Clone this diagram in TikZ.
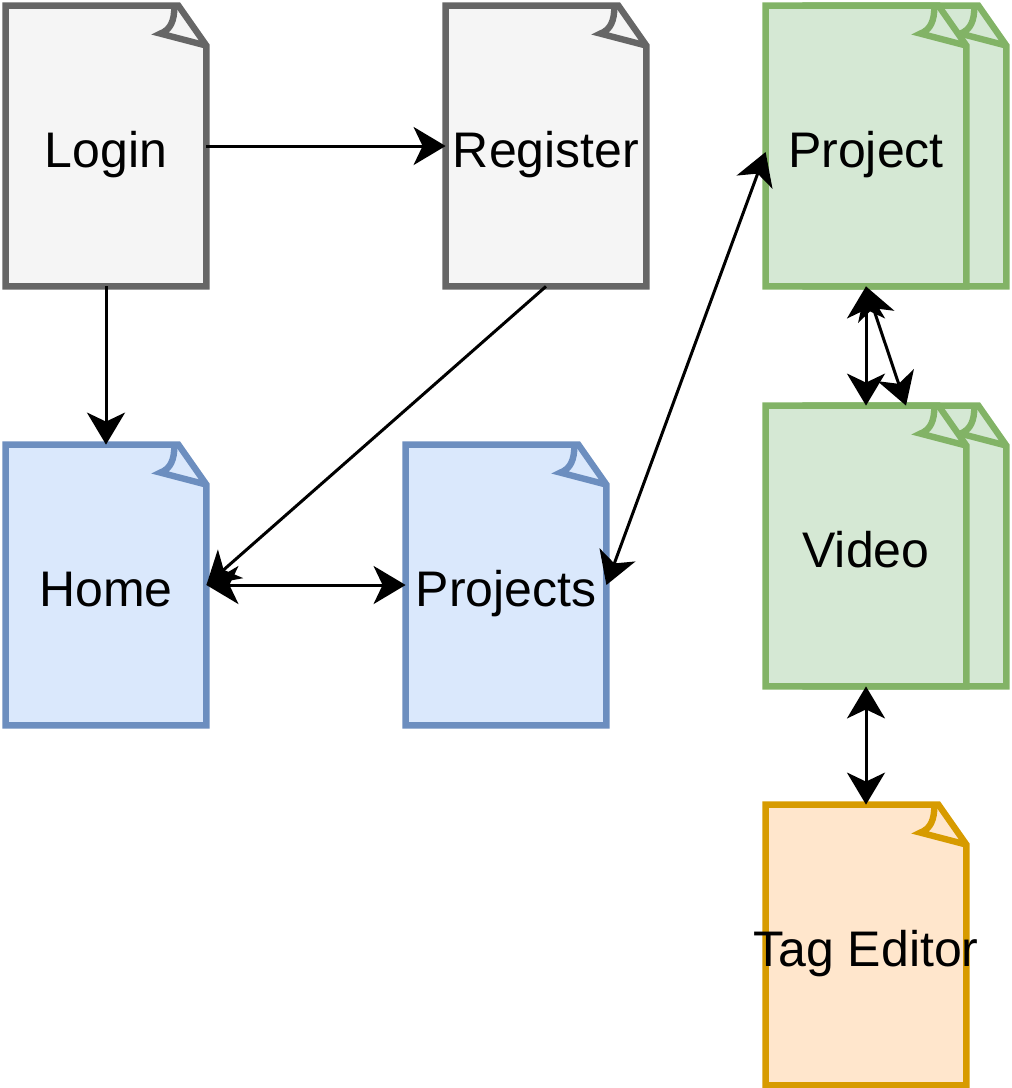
\documentclass[tikz,border=0pt]{standalone}
\usepackage{fontspec}
\setmainfont{Liberation Sans}
\usetikzlibrary{arrows.meta,backgrounds}

\definecolor{grayfill}{HTML}{F5F5F5}
\definecolor{graydraw}{HTML}{666666}
\definecolor{bluefill}{HTML}{DAE8FC}
\definecolor{bluedraw}{HTML}{6C8EBF}
\definecolor{greenfill}{HTML}{D5E8D4}
\definecolor{greendraw}{HTML}{82B366}
\definecolor{orangefill}{HTML}{FFE6CC}
\definecolor{orangedraw}{HTML}{D79B00}

\tikzset{
  page/.style={shape=rectangle, minimum width=100pt, minimum height=140pt, inner sep=0pt},
  pagetext/.style={inner sep=0pt, text height=21pt, text depth=0pt, font=\fontsize{25}{29}\selectfont},
  graypage/.style={draw=graydraw, fill=grayfill, line width=3.2pt},
  bluepage/.style={draw=bluedraw, fill=bluefill, line width=3.2pt},
  greenpage/.style={draw=greendraw, fill=greenfill, line width=3.2pt},
  orangepage/.style={draw=orangedraw, fill=orangefill, line width=3.2pt},
  tip/.tip={Stealth[length=16pt, width=19pt, inset=4.5pt]},
  link/.style={-tip, line width=1.5pt},
  both/.style={tip-tip, line width=1.5pt}
}

\begin{document}
\begin{tikzpicture}[x=0.5pt, y=-0.5pt]
        \useasboundingbox (0, 0) rectangle (1012, 1088);
        % pages
        \node[page] (login) at (106, 146) {};
        \node[page] (register) at (546, 146) {};
        \node[page] (home) at (106, 585) {};
        \node[page] (projects) at (506, 585) {};
        \node[page] (projectback) at (906, 146) {};
        \node[page] (project) at (866, 146) {};
        \node[page] (videoback) at (906, 546) {};
        \node[page] (video) at (866, 546) {};
        \node[page] (tageditor) at (866, 945) {};
        \begin{scope}[on background layer]
          \foreach \pg/\st in {login/graypage, register/graypage, home/bluepage, projects/bluepage,
              projectback/greenpage, project/greenpage, videoback/greenpage, video/greenpage, tageditor/orangepage} {
            \draw[\st] (\pg.south west) -- (\pg.south east) -- ([yshift=-20pt]\pg.north east)
              -- ([xshift=-14pt]\pg.north east) -- (\pg.north west) -- cycle;
            \draw[\st, fill=none] ([xshift=-16pt]\pg.north east)
              .. controls ([xshift=-16pt, yshift=-8pt]\pg.north east) and ([xshift=-18pt, yshift=-12pt]\pg.north east)
              .. ([xshift=-23pt, yshift=-14pt]\pg.north east) -- ([yshift=-20pt]\pg.north east);
          }
        \end{scope}
        % labels
        \node[pagetext] (logintext) at (login) {Login};
        \node[pagetext] (registertext) at (register) {Register};
        \node[pagetext] (hometext) at (home) {Home};
        \node[pagetext] (projectstext) at (projects) {Projects};
        \node[pagetext] (projecttext) at (project) {Project};
        \node[pagetext] (videotext) at (video) {Video};
        \node[pagetext] (tageditortext) at (tageditor) {Tag Editor};
        % links
        \draw[link] (login.east) -- (register.west);
        \draw[link] (login.south) -- (home.north);
        \draw[link] (register.south) -- (home.east);
        \draw[both] (home.east) -- (projects.west);
        \draw[both] (projects.east) -- ([yshift=-3pt]project.west);
        \draw[both] (project.south) -- (video.north);
        \draw[both] (project.south) -- (videoback.north);
        \draw[both] (video.south) -- (tageditor.north);
    \end{tikzpicture}
\end{document}
